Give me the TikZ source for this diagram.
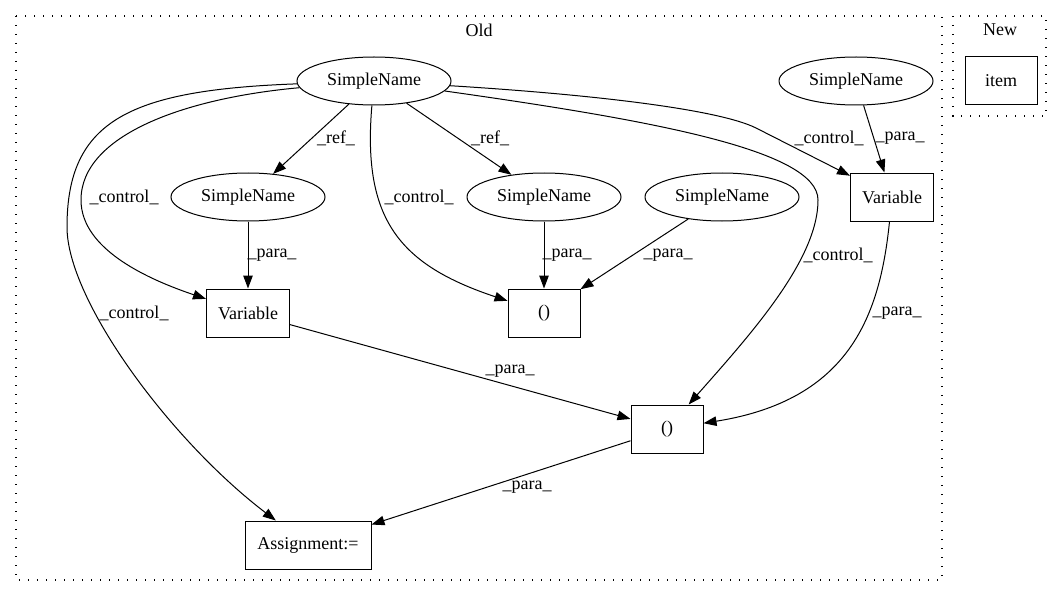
\documentclass[tikz,border=0pt]{standalone}
\usepackage{fontspec}
\setmainfont{Liberation Serif}
\usetikzlibrary{shapes.geometric,arrows.meta}
\begin{document}
\begin{tikzpicture}[x=1pt,y=-1pt,
	every node/.style={font=\fontsize{18}{22}\selectfont},
	sname/.style={ellipse,draw,line width=1pt,minimum width=154pt,minimum height=48pt,inner sep=0pt},
	sbox/.style={rectangle,draw,line width=1pt,minimum height=48pt,inner sep=0pt},
	lbl/.style={inner sep=0pt},
	flow/.style={-{Triangle[length=13pt,width=9.5pt]},line width=1pt},
	grp/.style={line width=1.3pt,dash pattern=on 1.4pt off 7.6pt}]
	\useasboundingbox (0,0) rectangle (1064,596);
	
	% clusters
	\draw[grp] (16,16) rectangle (942,580);
	\node (old) at (479,30) {Old};
	\draw[grp] (953,16) rectangle (1046,116);
	\node (new) at (1000,30) {New};
	
	\node[sname] (sn0) at (374,81) {SimpleName};
	\node[sname] (sn1) at (248,197) {SimpleName};
	\node[sname] (sn2) at (544,197) {SimpleName};
	\node[sname] (sn3) at (856,81) {SimpleName};
	\node[sname] (sn4) at (722,197) {SimpleName};
	\node[sbox,minimum width=83pt] (var1) at (248,313) {Variable};
	\node[sbox,minimum width=83pt] (var2) at (892,197) {Variable};
	\node[sbox,minimum width=72pt] (par1) at (544,313) {()};
	\node[sbox,minimum width=72pt] (par2) at (667,429) {()};
	\node[sbox,minimum width=126pt] (asg) at (308,545) {Assignment:=};
	\node[sbox,minimum width=72pt] (item) at (1001,81) {item};
	
	\draw[flow] (sn0) -- (sn1);
	\draw[flow] (sn0) -- (sn2);
	\draw[flow] (sn1) -- (var1);
	\draw[flow] (sn2) -- (par1);
	\draw[flow] (sn4) -- (par1);
	\draw[flow] (sn3) -- (var2);
	\draw[flow] (var1) -- (par2);
	\draw[flow] (par2) -- (asg);
	\draw[flow] (sn0) .. controls (185,98) and (81,135) .. (81,200) .. controls (81,250) and (150,280) .. (var1);
	\draw[flow] (sn0) .. controls (130,90) and (67,120) .. (67,227) .. controls (67,300) and (170,440) .. (asg);
	\draw[flow] (sn0) .. controls (362,220) and (400,265) .. (par1);
	\draw[flow] (sn0) .. controls (600,95) and (720,110) .. (756,128) -- (var2);
	\draw[flow] (sn0) .. controls (650,120) and (818,150) .. (818,200) .. controls (818,260) and (750,335) .. (par2);
	\draw[flow] (var2) .. controls (880,315) and (850,400) .. (par2);
	
	% edge labels
	\node[lbl] (lref1) at (336,138) {\_ref\_};
	\node[lbl] (lref2) at (490,138) {\_ref\_};
	\node[lbl] (lctl1) at (124,197) {\_control\_};
	\node[lbl] (lctl2) at (419,197) {\_control\_};
	\node[lbl] (lctl3) at (829,138) {\_control\_};
	\node[lbl] (lctl4) at (838,255) {\_control\_};
	\node[lbl] (lctl5) at (134,313) {\_control\_};
	\node[lbl] (lpar1) at (900,138) {\_para\_};
	\node[lbl] (lpar2) at (272,255) {\_para\_};
	\node[lbl] (lpar3) at (567,255) {\_para\_};
	\node[lbl] (lpar4) at (668,255) {\_para\_};
	\node[lbl] (lpar5) at (897,313) {\_para\_};
	\node[lbl] (lpar6) at (510,371) {\_para\_};
	\node[lbl] (lpar7) at (527,487) {\_para\_};
\end{tikzpicture}
\end{document}
